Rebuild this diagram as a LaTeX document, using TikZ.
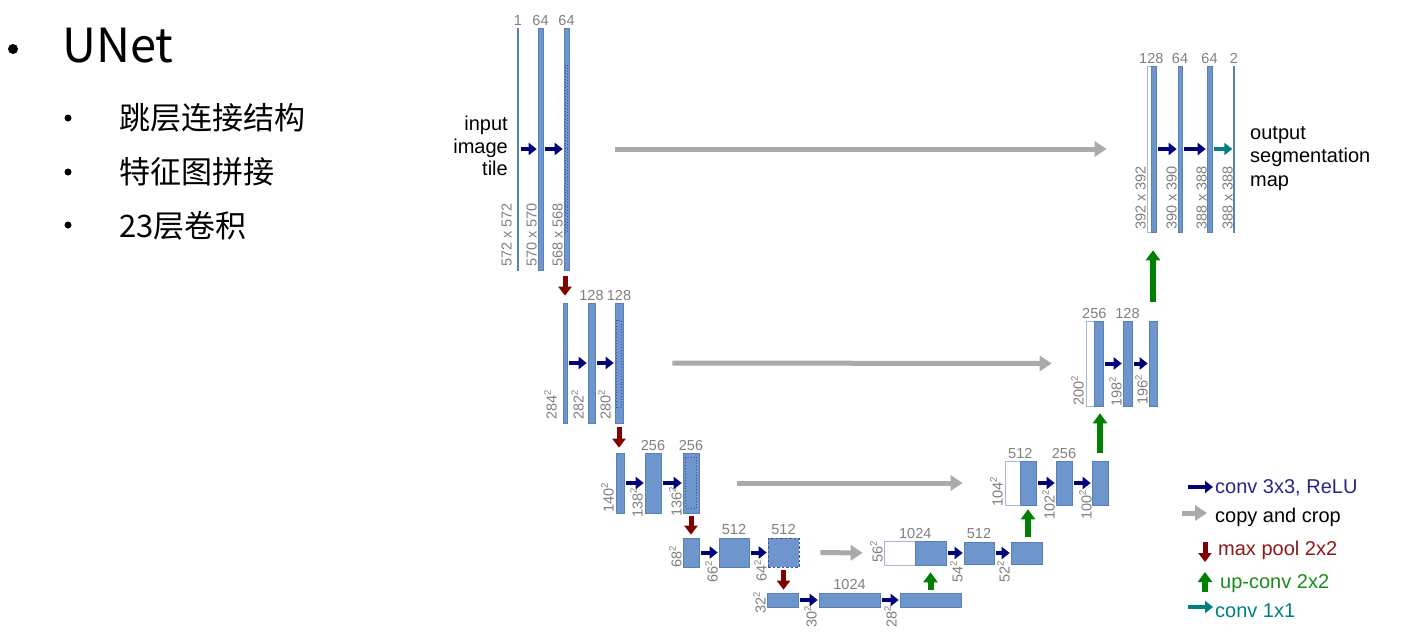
\documentclass[tikz,border=0pt]{standalone}
\usepackage{fontspec}
\setmainfont{Liberation Sans}
\newfontfamily\cjk{Noto Sans CJK SC}
\usetikzlibrary{arrows.meta, positioning, fit}
\definecolor{mapblue}{RGB}{110,150,204}
\definecolor{mapedge}{RGB}{88,128,185}
\definecolor{convblue}{RGB}{0,0,120}
\definecolor{poolred}{RGB}{128,0,0}
\definecolor{upgreen}{RGB}{0,128,0}
\definecolor{outteal}{RGB}{0,128,128}
\definecolor{copygray}{RGB}{170,170,170}
\definecolor{lblgray}{RGB}{128,128,128}
\newcommand\sq[1]{#1\raisebox{0.4em}{\fontsize{9.5}{10}\selectfont 2}}
\tikzset{
fmap/.style={%
    rectangle,
    inner sep=0pt,
    fill=mapblue,
    draw=mapedge,
    line width=0.6pt
},
cropmap/.style={fmap, fill=white, draw=mapedge!55},
cropbox/.style={rectangle, inner sep=0pt, draw=convblue!70, dotted, line width=0.9pt},
dashmap/.style={fmap, draw=convblue!70, dash pattern=on 2.5pt off 2pt},
chan/.style={inner sep=0pt, text=lblgray, font=\fontsize{14.5}{16}\selectfont},
sizelbl/.style={chan, rotate=90, anchor=south west},
conv/.style={convblue, line width=4pt, -{Triangle[length=8pt,width=12pt]}, shorten <=2pt, shorten >=1pt},
finalconv/.style={conv, outteal},
copyarr/.style={copygray, line width=5pt, -{Triangle[length=12pt,width=15pt]}},
pool/.style={poolred, line width=5pt, -{Triangle[length=9pt,width=13pt]}},
upconv/.style={upgreen, line width=6pt, -{Triangle[length=10pt,width=14pt]}},
legarrow/.style={shorten <=0pt, shorten >=0pt},
legtxt/.style={inner sep=0pt, anchor=base west, font=\fontsize{20}{22}\selectfont},
bigdot/.style={circle, fill=black, inner sep=0pt, minimum size=10pt},
smalldot/.style={circle, fill=black, inner sep=0pt, minimum size=7pt},
itemtxt/.style={inner sep=0pt, anchor=west, font=\cjk\fontsize{31}{31}\selectfont},
}

\begin{document}
\begin{tikzpicture}[x=1pt, y=-1pt]
	\fill[white] (0,0) rectangle (1427,634);

	% left text
	\node[bigdot] (b0) at (13,49) {};
	\node[inner sep=0pt, anchor=base west, font=\cjk\fontsize{47}{47}\selectfont] (title) at (62,63) {UNet};
	\node[smalldot] (b1) at (68,118) {};
	\node[itemtxt] (t1) at (119,118) {跳层连接结构};
	\node[smalldot] (b2) at (68,172) {};
	\node[itemtxt] (t2) at (119,172) {特征图拼接};
	\node[smalldot] (b3) at (68,225) {};
	\node[itemtxt] (t3) at (119,226) {23层卷积};

	% contracting path
	\node[fmap, line width=0.4pt, fit={(517.6,28) (518.4,270)}] (l1a) {};
	\node[fmap, fit={(538,28) (543,270)}] (l1b) {};
	\node[fmap, fit={(564,28) (569,270)}] (l1c) {};
	\node[cropbox, fit={(565.3,65) (567.7,232)}] (l1d) {};
	\node[fmap, fit={(563,303) (567,423)}] (l2a) {};
	\node[fmap, fit={(588,303) (595,423)}] (l2b) {};
	\node[fmap, fit={(615,303) (623,423)}] (l2c) {};
	\node[cropbox, fit={(616.8,320) (621.2,407)}] (l2d) {};
	\node[fmap, fit={(616,453) (624,513)}] (l3a) {};
	\node[fmap, fit={(645,453) (661,513)}] (l3b) {};
	\node[fmap, fit={(683,453) (699,513)}] (l3c) {};
	\node[cropbox, fit={(685.5,457) (696.5,508)}] (l3d) {};
	\node[fmap, fit={(683,538) (699,567)}] (l4a) {};
	\node[fmap, fit={(719,538) (749,567)}] (l4b) {};
	\node[dashmap, fit={(768,538) (799,567)}] (l4c) {};
	\node[fmap, fit={(767,593) (798,607)}] (l5a) {};
	\node[fmap, fit={(819,593) (880,607)}] (l5b) {};
	\node[fmap, fit={(900,593) (961,607)}] (l5c) {};

	% expansive path
	\node[cropmap, fit={(884,541) (915,565)}] (r4a) {};
	\node[fmap, fit={(915,541) (946,565)}] (r4b) {};
	\node[fmap, fit={(964,542) (994,564)}] (r4c) {};
	\node[fmap, fit={(1011,542) (1042,564)}] (r4d) {};
	\node[cropmap, fit={(1005,461) (1020,505)}] (r3a) {};
	\node[fmap, fit={(1020,461) (1036,505)}] (r3b) {};
	\node[fmap, fit={(1056,461) (1072,505)}] (r3c) {};
	\node[fmap, fit={(1092,461) (1108,505)}] (r3d) {};
	\node[cropmap, fit={(1086,321) (1094,406)}] (r2a) {};
	\node[fmap, fit={(1094,321) (1103,406)}] (r2b) {};
	\node[fmap, fit={(1123,321) (1132,406)}] (r2c) {};
	\node[fmap, fit={(1149,321) (1157,406)}] (r2d) {};
	\node[cropmap, fit={(1147,66) (1151,232)}] (r1a) {};
	\node[fmap, fit={(1151,66) (1156,232)}] (r1b) {};
	\node[fmap, fit={(1178,66) (1182,232)}] (r1c) {};
	\node[fmap, fit={(1207,66) (1212,232)}] (r1d) {};
	\node[fmap, line width=0.4pt, fit={(1233.6,66) (1234.4,232)}] (r1e) {};

	% channel counts
	\node[chan, above=2pt of l1a] (c1a) {1};
	\node[chan, above=2pt of l1b] (c1b) {64};
	\node[chan, above=2pt of l1c] (c1c) {64};
	\node[chan, above=2pt of l2b] (c2b) {128};
	\node[chan, above=2pt of l2c] (c2c) {128};
	\node[chan, above=2pt of l3b] (c3b) {256};
	\node[chan, above=2pt of l3c] (c3c) {256};
	\node[chan, above=3pt of l4b] (c4b) {512};
	\node[chan, above=3pt of l4c] (c4c) {512};
	\node[chan, above=3pt of l5b] (c5b) {1024};
	\node[chan, above=2pt of r4a.north east] (d4a) {1024};
	\node[chan, above=3pt of r4c] (d4c) {512};
	\node[chan, above=2pt of r3a.north east] (d3a) {512};
	\node[chan, above=2pt of r3c] (d3c) {256};
	\node[chan, above=2pt of r2a.north east] (d2a) {256};
	\node[chan, above=2pt of r2c] (d2c) {128};
	\node[chan, above=2pt of r1a.north east] (d1a) {128};
	\node[chan, above=2pt of r1c] (d1c) {64};
	\node[chan, above=2pt of r1d] (d1d) {64};
	\node[chan, above=2pt of r1e] (d1e) {2};

	% feature map sizes
	\node[sizelbl] (s1a) at (512,267) {572 x 572};
	\node[sizelbl] (s1b) at (537,267) {570 x 570};
	\node[sizelbl] (s1c) at (563,267) {568 x 568};
	\node[sizelbl] (s2a) at (557,420) {\sq{284}};
	\node[sizelbl] (s2b) at (584,420) {\sq{282}};
	\node[sizelbl] (s2c) at (611,420) {\sq{280}};
	\node[sizelbl] (s3a) at (614,513) {\sq{140}};
	\node[sizelbl] (s3b) at (643,518) {\sq{138}};
	\node[sizelbl] (s3c) at (682,517) {\sq{136}};
	\node[sizelbl] (s4a) at (682,568) {\sq{68}};
	\node[sizelbl] (s4b) at (718,583) {\sq{66}};
	\node[sizelbl] (s4c) at (767,582) {\sq{64}};
	\node[sizelbl] (s5a) at (766,614) {\sq{32}};
	\node[sizelbl] (s5b) at (817,628) {\sq{30}};
	\node[sizelbl] (s5c) at (897,628) {\sq{28}};
	\node[sizelbl] (t4a) at (883,563) {\sq{56}};
	\node[sizelbl] (t4b) at (963,583) {\sq{54}};
	\node[sizelbl] (t4c) at (1010,583) {\sq{52}};
	\node[sizelbl] (t3a) at (1003,507) {\sq{104}};
	\node[sizelbl] (t3b) at (1055,520) {\sq{102}};
	\node[sizelbl] (t3c) at (1092,520) {\sq{100}};
	\node[sizelbl] (t2a) at (1084,406) {\sq{200}};
	\node[sizelbl] (t2b) at (1122,407) {\sq{198}};
	\node[sizelbl] (t2c) at (1148,405) {\sq{196}};
	\node[sizelbl] (t1a) at (1146,230) {392 x 392};
	\node[sizelbl] (t1b) at (1177,230) {390 x 390};
	\node[sizelbl] (t1c) at (1207,230) {388 x 388};
	\node[sizelbl] (t1d) at (1233,230) {388 x 388};

	\node[inner sep=0pt, anchor=north east, align=right, font=\fontsize{20}{22.5}\selectfont] (intile) at (508,116) {input\\image\\tile};
	\node[inner sep=0pt, anchor=north west, align=left, font=\fontsize{20}{23.5}\selectfont] (outmap) at (1250,126) {output\\segmentation\\map};

	% conv 3x3
	\draw[conv] (l1a) -- (l1b);
	\draw[conv] (l1b) -- (l1c);
	\draw[conv] (l2a) -- (l2b);
	\draw[conv] (l2b) -- (l2c);
	\draw[conv] (l3a) -- (l3b);
	\draw[conv] (l3b) -- (l3c);
	\draw[conv] (l4a) -- (l4b);
	\draw[conv] (l4b) -- (l4c);
	\draw[conv] (l5a) -- (l5b);
	\draw[conv] (l5b) -- (l5c);
	\draw[conv] (r4b) -- (r4c);
	\draw[conv] (r4c) -- (r4d);
	\draw[conv] (r3b) -- (r3c);
	\draw[conv] (r3c) -- (r3d);
	\draw[conv] (r2b) -- (r2c);
	\draw[conv] (r2c) -- (r2d);
	\draw[conv] (r1b) -- (r1c);
	\draw[conv] (r1c) -- (r1d);
	\draw[finalconv] (r1d) -- (r1e);

	% copy and crop
	\draw[copyarr, shorten <=46pt, shorten >=40pt] (l1c) -- (r1a);
	\draw[copyarr, shorten <=49pt, shorten >=34pt] (l2c) -- (r2a);
	\draw[copyarr, shorten <=38pt, shorten >=42pt] (l3c) -- (r3a);
	\draw[copyarr, shorten <=21pt, shorten >=21pt] (l4c) -- (r4a);

	% max pool
	\draw[pool, shorten <=6pt, shorten >=7pt] (l1c.south -| l2a.north) -- (l2a.north);
	\draw[pool, shorten <=4pt, shorten >=5pt] (l2c.south) -- (l3a.north -| l2c.south);
	\draw[pool, shorten <=3pt, shorten >=3pt] (l3c) -- (l4a);
	\draw[pool, shorten <=3pt, shorten >=3pt] (l4c.south) -- (l5a.north -| l4c.south);

	% up-conv
	\draw[upconv, shorten <=3pt, shorten >=7pt] (l5c) -- (r4b);
	\draw[upconv, shorten <=5pt, shorten >=4pt] (r4d.north -| r3b.south) -- (r3b.south);
	\draw[upconv, shorten <=8pt, shorten >=7pt] (r3d.north) -- (r2b.south -| r3d.north);
	\draw[upconv, shorten <=19pt, shorten >=18pt] (r2d.north) -- (r1b.south -| r2d.north);

	% legend
	\node[legtxt, text=convblue!85] (lg1) at (1215,493) {conv 3x3, ReLU};
	\node[legtxt] (lg2) at (1215,522) {copy and crop};
	\node[legtxt, text=poolred!90] (lg3) at (1218,555) {max pool 2x2};
	\node[legtxt, text=upgreen!90] (lg4) at (1220,588) {up-conv 2x2};
	\node[legtxt, text=outteal] (lg5) at (1215,617) {conv 1x1};
	\coordinate (k1) at (1188,487);
	\coordinate (k2) at (1182,513);
	\coordinate (k3a) at (1205,542);
	\coordinate (k3b) at (1205,562);
	\coordinate (k4a) at (1205,592);
	\coordinate (k4b) at (1205,572);
	\coordinate (k5) at (1188,607);
	\draw[conv, legarrow] (k1) -- ([xshift=-2pt]lg1.west |- k1);
	\draw[copyarr] (k2) -- ([xshift=-8pt]lg2.west |- k2);
	\draw[pool] (k3a) -- (k3b);
	\draw[upconv] (k4a) -- (k4b);
	\draw[finalconv, legarrow] (k5) -- ([xshift=-2pt]lg5.west |- k5);
\end{tikzpicture}
\end{document}
